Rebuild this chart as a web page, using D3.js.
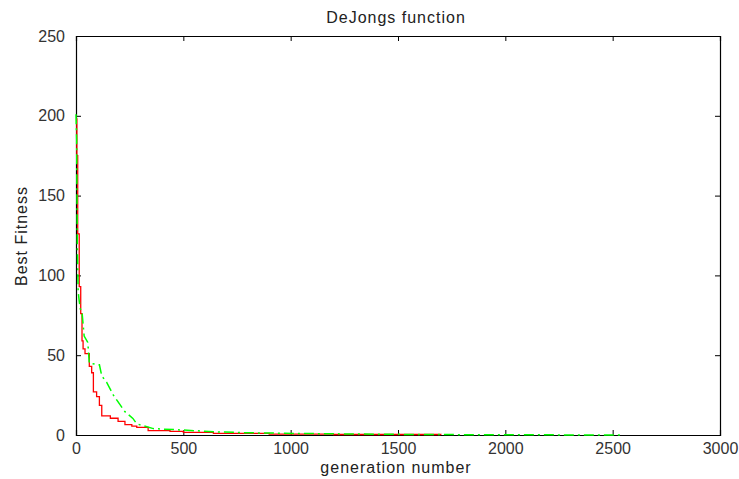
<!DOCTYPE html>
<html>
<head>
<meta charset="utf-8">
<script src="https://cdn.jsdelivr.net/npm/d3@7"></script>
<style>
  body { margin: 0; background: #fff; }
  text { font-family: "Liberation Sans", Arial, sans-serif; }
</style>
</head>
<body>
<script>
// best fitness per generation
var redGen = [0, 4, 8, 15, 22, 28, 33, 42, 62, 73, 81, 96, 109, 120, 160, 196, 228, 260, 283, 336, 438, 500, 640, 900, 1200, 1700];
var redFit = [198, 175, 126, 93, 76, 59, 54, 51, 43, 39, 27, 24, 18.5, 12, 10.5, 8.5, 6.5, 5.5, 4.8, 2.8, 2.3, 1.7, 1.0, 0.6, 0.3, 0.2];

var greenGen = [0, 3, 6, 10, 15, 20, 28, 38, 55, 62, 109, 120, 143, 174, 205, 228, 265, 283, 360, 500, 650, 800, 1020, 1300, 1500, 2000, 2540];
var greenFit = [201, 185, 120, 90, 84, 79, 77, 62, 58, 45, 44, 37, 33, 25, 19, 14.6, 10.4, 7, 4, 3.1, 2, 1.4, 1, 0.6, 0.4, 0.1, 0.05];

var xTicks = [0, 500, 1000, 1500, 2000, 2500, 3000];
var yTicks = [0, 50, 100, 150, 200, 250];

var W = 739, H = 479;
var pLeft = 76, pRight = 720, pTop = 36, pBottom = 435;

var svg = d3.select("body")
  .append("svg")
  .attr("width", W)
  .attr("height", H);

var x = d3.scaleLinear().domain([0, 3000]).range([pLeft, pRight]);
var y = d3.scaleLinear().domain([0, 250]).range([pBottom, pTop]);

var redData = redGen.map(function(g, i) { return [g, redFit[i]]; });
var greenData = greenGen.map(function(g, i) { return [g, greenFit[i]]; });

var redLine = d3.line()
  .x(function(d) { return x(d[0]); })
  .y(function(d) { return y(d[1]); })
  .curve(d3.curveStepAfter);

var greenLine = d3.line()
  .x(function(d) { return x(d[0]); })
  .y(function(d) { return y(d[1]); });

// axes, ticks pointing inward, box all round
var fmt = d3.format("d");
svg.append("g")
  .attr("transform", "translate(0," + pBottom + ")")
  .call(d3.axisBottom(x).tickValues(xTicks).tickSize(-5).tickPadding(8).tickFormat(fmt));
svg.append("g")
  .attr("transform", "translate(0," + pTop + ")")
  .call(d3.axisTop(x).tickValues(xTicks).tickSize(-5).tickFormat(""));
svg.append("g")
  .attr("transform", "translate(" + pLeft + ",0)")
  .call(d3.axisLeft(y).tickValues(yTicks).tickSize(-5).tickPadding(11).tickFormat(fmt));
svg.append("g")
  .attr("transform", "translate(" + pRight + ",0)")
  .call(d3.axisRight(y).tickValues(yTicks).tickSize(-5).tickFormat(""));

svg.selectAll(".domain").attr("stroke", "#000").attr("stroke-width", 1.2);
svg.selectAll(".tick line").attr("stroke", "#000");
svg.selectAll(".tick text")
  .attr("fill", "#333")
  .style("font-size", "16px")
  .style("font-family", "'Liberation Sans', Arial, sans-serif");

svg.append("path")
  .attr("d", redLine(redData))
  .attr("fill", "none")
  .attr("stroke", "#ff0000")
  .attr("stroke-width", 1.3);

svg.append("path")
  .attr("d", greenLine(greenData))
  .attr("fill", "none")
  .attr("stroke", "#00ff00")
  .attr("stroke-width", 1.5)
  .attr("stroke-dasharray", "10,4,2,4");

// titles
svg.append("text")
  .attr("x", 396).attr("y", 23)
  .attr("text-anchor", "middle")
  .style("font-size", "16px")
  .style("letter-spacing", "1px")
  .attr("fill", "#222")
  .text("DeJongs function");

svg.append("text")
  .attr("x", 396).attr("y", 473)
  .attr("text-anchor", "middle")
  .style("font-size", "16px")
  .style("letter-spacing", "1px")
  .attr("fill", "#222")
  .text("generation number");

svg.append("text")
  .attr("transform", "translate(27,236) rotate(-90)")
  .attr("text-anchor", "middle")
  .style("font-size", "16px")
  .style("letter-spacing", "1px")
  .attr("fill", "#222")
  .text("Best Fitness");
</script>
</body>
</html>
